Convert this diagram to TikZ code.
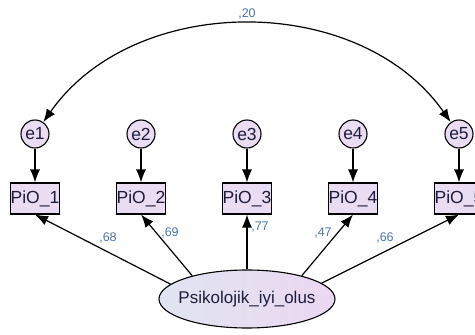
\documentclass[tikz,border=0pt]{standalone}
\usepackage{fontspec}
\setmainfont{Liberation Sans}
\usepackage{xcolor}
\usepackage{tikz}
\usetikzlibrary{arrows.meta}
\usetikzlibrary{shapes}
\usetikzlibrary{positioning}

\definecolor{boxfill}{HTML}{EADCF2}
\definecolor{latleft}{HTML}{DFE5F0}
\definecolor{latright}{HTML}{ECD7F2}
\definecolor{valblue}{HTML}{4A72B0}
\definecolor{textnavy}{HTML}{1C1C3C}

\begin{document}
\begin{tikzpicture}[
        x=1pt, y=1pt,
        errnode/.style={draw, line width=1.1pt, circle, fill=boxfill, minimum size=28pt, inner sep=0pt,
            text=textnavy, font=\fontsize{17.5}{19}\selectfont},
        obsbox/.style={draw, line width=1.1pt, rectangle, fill=boxfill, minimum width=48pt, minimum height=31pt,
            inner sep=0pt, text=textnavy, font=\fontsize{17.5}{19}\selectfont},
        latent/.style={draw, line width=1.1pt, ellipse, left color=latleft, right color=latright,
            minimum width=176pt, minimum height=58pt, inner xsep=-10pt, inner ysep=0pt,
            text=textnavy, font=\fontsize{17}{19}\selectfont},
        path/.style={draw, line width=1.2pt, -{Latex[length=13pt, width=10pt]}},
        covpath/.style={draw, line width=1.2pt, {Latex[length=13pt, width=10pt]}-{Latex[length=13pt, width=10pt]}},
        val/.style={text=valblue, inner sep=1pt, font=\fontsize{12.5}{14}\selectfont}
    ]

    \useasboundingbox (0,0) rectangle (475,335);

    %=== Latent factor ===%
    \node[latent] (lat) at (247,36) {Psikolojik\_iyi\_olus};

    %=== Indicator Macro ===%
    \newcommand{\indicator}[6]{
        \node[errnode] (e#1) at (#2,201) {e#1};
        \node[obsbox] (p#1) at (#2,136.5) {PiO\_#1};
        \draw[path] (e#1) -- (p#1);
        \draw[path] (lat.#3) -- (p#1.south);
        \node[val] (v#1) at (#5,#6) {#4};
    }

    %=== INDICATORS ===%
    \indicator{1}{35}{169}{,68}{108}{97};
    \indicator{2}{141}{157}{,69}{170}{102};
    \indicator{3}{247}{90}{,77}{260}{108};
    \indicator{4}{353}{23}{,47}{323}{102};
    \indicator{5}{459}{12}{,66}{385}{97};

    % covariance between e1 and e5
    \draw[covpath] (e5) to[bend right=55] node[val, above=4pt] (cov) {,20} (e1);
\end{tikzpicture}
\end{document}
